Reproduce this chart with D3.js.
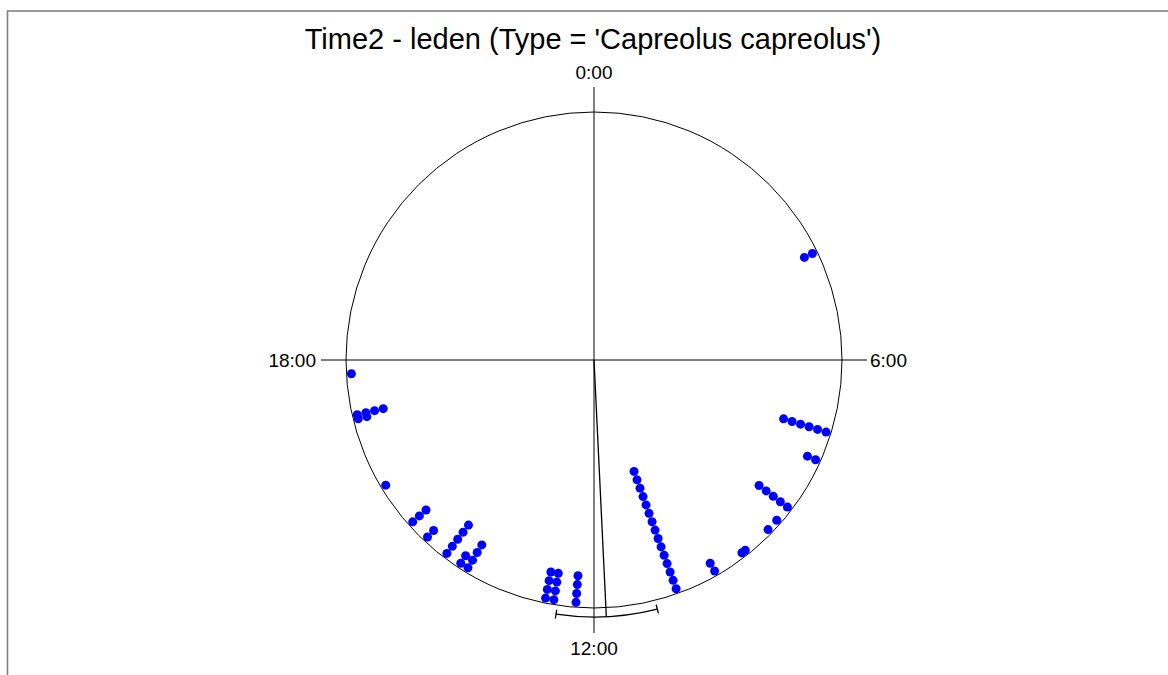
<!DOCTYPE html>
<html>
<head>
<meta charset="utf-8">
<script src="https://cdn.jsdelivr.net/npm/d3@7"></script>
<style>
  body { margin: 0; background: #fff; }
  text { font-family: "Liberation Sans", Arial, sans-serif; fill: #000; }
</style>
</head>
<body>
<div id="chart"></div>
<script>
// stacked observations: time of the stack and how many dots it holds
var stackTimes = ["4:16", "7:09", "7:37", "8:29", "8:45", "8:57", "9:26", "9:30", "10:01", "10:41",
                  "12:17", "12:38", "12:46", "14:05", "14:13", "14:29", "14:53", "15:13", "15:56",
                  "17:04", "17:08", "17:47"];
var stackCounts = [2, 6, 2, 5, 1, 1, 1, 1, 2, 15,
                   4, 4, 4, 4, 2, 5, 2, 3, 1,
                   2, 4, 1];
var axisTimes = [0, 6, 12, 18];
var axisLabels = ["0:00", "6:00", "12:00", "18:00"];
var meanTime = "11:49";
var ciTimes = ["11:03", "12:34"];
var title = "Time2 - leden (Type = 'Capreolus capreolus')";

function toHours(s) {
  var p = s.split(":");
  return +p[0] + p[1] / 60;
}

var width = 1168, height = 675;
var cx = 594, cy = 360, R = 248;

var svg = d3.select("#chart")
  .append("svg")
  .attr("width", width)
  .attr("height", height);

// frame
svg.append("rect")
  .attr("x", 7.5)
  .attr("y", 11)
  .attr("width", 1300)
  .attr("height", 800)
  .attr("fill", "none")
  .attr("stroke", "#808080")
  .attr("stroke-width", 1.6);

svg.append("text")
  .attr("x", cx - 1)
  .attr("y", 49)
  .attr("text-anchor", "middle")
  .attr("font-size", 29)
  .text(title);

var g = svg.append("g")
  .attr("transform", `translate(${cx}, ${cy})`);

var angle = d3.scaleLinear()
  .domain([0, 24])
  .range([0, 2 * Math.PI]);

// stack level -> radius (dots pile inward from the rim)
var level = d3.scaleLinear()
  .domain([0, 1])
  .range([R - 5, R - 5 - 8.9]);

// axes through the centre
var axisLen = 273;
g.append("line")
  .attr("x1", 0).attr("y1", -axisLen)
  .attr("x2", 0).attr("y2", axisLen)
  .attr("stroke", "#000").attr("stroke-width", 1);
g.append("line")
  .attr("x1", -axisLen).attr("y1", 0)
  .attr("x2", axisLen).attr("y2", 0)
  .attr("stroke", "#000").attr("stroke-width", 1);

g.append("circle")
  .attr("r", R)
  .attr("fill", "none")
  .attr("stroke", "#000")
  .attr("stroke-width", 1);

// axis labels
g.selectAll(".lab")
  .data(axisTimes)
  .enter()
  .append("text")
  .attr("class", "lab")
  .attr("font-size", 19)
  .attr("text-anchor", d => d == 6 ? "start" : d == 18 ? "end" : "middle")
  .attr("x", d => d == 6 ? 276 : d == 18 ? -278 : 0)
  .attr("y", d => d == 0 ? -281 : d == 12 ? 295 : 7)
  .text((d, i) => axisLabels[i]);

// dots
var dots = [];
stackTimes.forEach(function(t, i) {
  for (var k = 0; k < stackCounts[i]; k++) {
    dots.push({ t: toHours(t), k: k });
  }
});

g.selectAll(".dot")
  .data(dots)
  .enter()
  .append("circle")
  .attr("class", "dot")
  .attr("cx", d => d3.pointRadial(angle(d.t), level(d.k))[0])
  .attr("cy", d => d3.pointRadial(angle(d.t), level(d.k))[1])
  .attr("r", 4.5)
  .attr("fill", "#0000ff");

// mean direction and confidence interval
var ciR = 257;
var mp = d3.pointRadial(angle(toHours(meanTime)), ciR);
g.append("line")
  .attr("x1", 0).attr("y1", 0)
  .attr("x2", mp[0]).attr("y2", mp[1])
  .attr("stroke", "#000")
  .attr("stroke-width", 1.3);

var a1 = angle(toHours(ciTimes[0])), a2 = angle(toHours(ciTimes[1]));
var p = d3.path();
p.arc(0, 0, ciR, a1 - Math.PI / 2, a2 - Math.PI / 2);
g.append("path")
  .attr("d", p.toString())
  .attr("fill", "none")
  .attr("stroke", "#000")
  .attr("stroke-width", 1.3);

g.selectAll(".ci-end")
  .data([a1, a2])
  .enter()
  .append("line")
  .attr("class", "ci-end")
  .attr("x1", d => d3.pointRadial(d, ciR - 4.5)[0])
  .attr("y1", d => d3.pointRadial(d, ciR - 4.5)[1])
  .attr("x2", d => d3.pointRadial(d, ciR + 4.5)[0])
  .attr("y2", d => d3.pointRadial(d, ciR + 4.5)[1])
  .attr("stroke", "#000")
  .attr("stroke-width", 1.3);
</script>
</body>
</html>
